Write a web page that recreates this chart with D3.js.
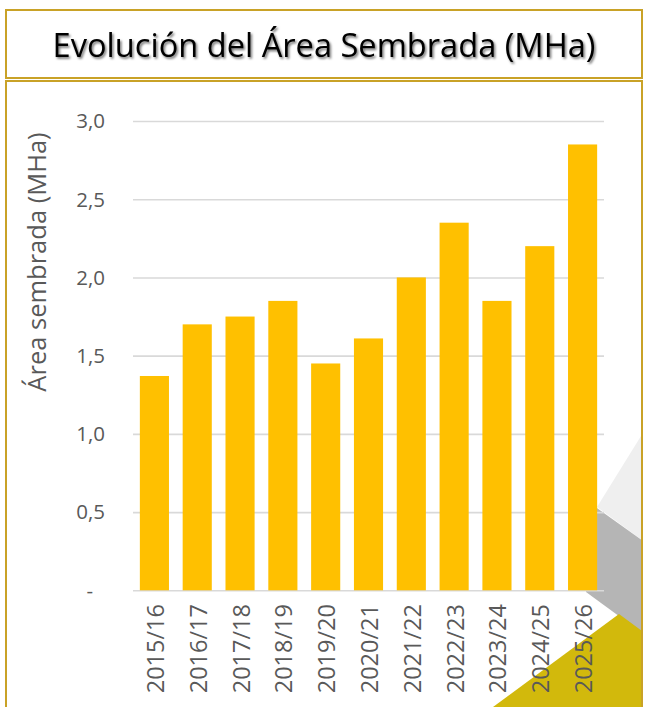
<!DOCTYPE html>
<html>
<head>
<meta charset="utf-8">
<script src="https://cdn.jsdelivr.net/npm/d3@7"></script>
<style>
  html, body { margin: 0; padding: 0; background: #ffffff; }
  svg { display: block; }
  text { font-family: "Open Sans", "Noto Sans", sans-serif; }
</style>
</head>
<body>
<script>
// ---- data ----
const categories = ["2015/16","2016/17","2017/18","2018/19","2019/20","2020/21","2021/22","2022/23","2023/24","2024/25","2025/26"];
const areaValues = [1.37, 1.70, 1.75, 1.85, 1.45, 1.61, 2.00, 2.35, 1.85, 2.20, 2.85];
const yTickValues = [0, 0.5, 1.0, 1.5, 2.0, 2.5, 3.0];
const yTickLabels = ["-", "0,5", "1,0", "1,5", "2,0", "2,5", "3,0"];
const titleText = "Evolución del Área Sembrada (MHa)";
const yAxisTitle = "Área sembrada (MHa)";

// ---- layout ----
const W = 646, H = 707;
const plot = { left: 133, right: 604, top: 121, bottom: 590.3 };
const borderColor = "#C9A227";
const barColor = "#FFC000";
const gridColor = "#D9D9D9";
const textColor = "#595959";

const svg = d3.select("body").append("svg").attr("width", W).attr("height", H);

const defs = svg.append("defs");
const f = defs.append("filter").attr("id", "shadow").attr("x", "-5%").attr("y", "-20%").attr("width", "110%").attr("height", "150%");
f.append("feDropShadow").attr("dx", 1.5).attr("dy", 1.8).attr("stdDeviation", 1.3)
  .attr("flood-color", "#000").attr("flood-opacity", 0.55);
defs.append("clipPath").attr("id", "boxclip").append("rect")
  .attr("x", 7).attr("y", 82).attr("width", 634).attr("height", 640);

// ---- decorative background shapes (bottom right) ----
const deco = svg.append("g").attr("clip-path", "url(#boxclip)");
const line = d3.line();
deco.append("path").attr("d", line([[646,428],[597,507],[646,543]]) + "Z").attr("fill", "#EFEFEF");
deco.append("path").attr("d", line([[580,496],[646,543],[646,636],[586,592]]) + "Z").attr("fill", "#B5B5B5");
deco.append("path").attr("d", line([[619,614],[646,634],[646,707],[493,707]]) + "Z").attr("fill", "#D2B90C");

// ---- frames ----
svg.append("rect").attr("x", 6).attr("y", 10).attr("width", 636).attr("height", 68)
  .attr("fill", "none").attr("stroke", borderColor).attr("stroke-width", 2);
svg.append("rect").attr("x", 6).attr("y", 81).attr("width", 636).attr("height", 660)
  .attr("fill", "none").attr("stroke", borderColor).attr("stroke-width", 2);

// ---- title ----
const title = svg.append("text")
  .attr("x", 324).attr("y", 57)
  .attr("text-anchor", "middle")
  .attr("font-size", 32.5)
  .attr("fill", "#000")
  .attr("filter", "url(#shadow)")
  .text(titleText);
// fit to target width
(function fit(sel, target) {
  const w = sel.node().getComputedTextLength();
  const fs = parseFloat(sel.attr("font-size"));
  sel.attr("font-size", fs * target / w);
})(title, 543);

// ---- scales ----
const x = d3.scaleBand().domain(categories).range([plot.left, plot.right])
  .paddingInner(0.32).paddingOuter(0.16);
const y = d3.scaleLinear().domain([0, 3]).range([plot.bottom, plot.top]);

// ---- gridlines ----
const yAxis = d3.axisLeft(y).tickValues(yTickValues).tickSize(-(plot.right - plot.left)).tickFormat("");
const gGrid = svg.append("g").attr("transform", `translate(${plot.left},0)`).call(yAxis);
gGrid.select(".domain").remove();
gGrid.selectAll(".tick line").attr("stroke", gridColor).attr("stroke-width", 1.6);

// ---- y tick labels ----
svg.append("g").selectAll("text").data(yTickValues).join("text")
  .attr("x", (d, i) => yTickLabels[i] === "-" ? 93 : 105)
  .attr("y", d => y(d))
  .attr("dy", "0.36em")
  .attr("text-anchor", "end")
  .attr("font-size", 20.5)
  .attr("fill", textColor)
  .text((d, i) => yTickLabels[i]);

// ---- bars ----
svg.append("g").selectAll("rect").data(areaValues).join("rect")
  .attr("x", (d, i) => x(categories[i]))
  .attr("y", d => y(d))
  .attr("width", x.bandwidth())
  .attr("height", d => y(0) - y(d))
  .attr("fill", barColor);

// ---- x labels ----
svg.append("g").selectAll("text").data(categories).join("text")
  .attr("transform", d => `translate(${x(d) + x.bandwidth() / 2 + 1},604) rotate(-90)`)
  .attr("dy", "0.36em")
  .attr("text-anchor", "end")
  .attr("font-size", 23.5)
  .attr("fill", textColor)
  .text(d => d);

// ---- y axis title ----
svg.append("text")
  .attr("transform", "translate(37,262) rotate(-90)")
  .attr("dy", "0.36em")
  .attr("text-anchor", "middle")
  .attr("font-size", 25.5)
  .attr("fill", textColor)
  .text(yAxisTitle);
</script>
</body>
</html>
